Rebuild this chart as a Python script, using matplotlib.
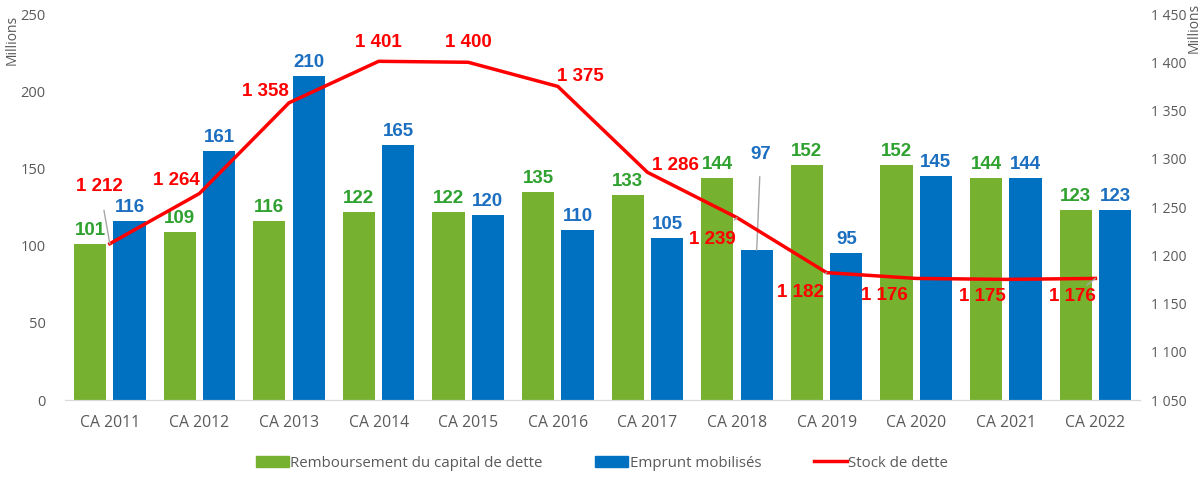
import numpy as np
import matplotlib
matplotlib.use("Agg")
import matplotlib.pyplot as plt
from matplotlib.patches import Patch
from matplotlib.lines import Line2D

plt.rcParams["font.family"] = ["Open Sans", "DejaVu Sans"]

# Data (millions)
years = ["CA 2011", "CA 2012", "CA 2013", "CA 2014", "CA 2015", "CA 2016",
         "CA 2017", "CA 2018", "CA 2019", "CA 2020", "CA 2021", "CA 2022"]
remboursement = [101, 109, 116, 122, 122, 135, 133, 144, 152, 152, 144, 123]
emprunt = [116, 161, 210, 165, 120, 110, 105, 97, 95, 145, 144, 123]
stock = [1212, 1264, 1358, 1401, 1400, 1375, 1286, 1239, 1182, 1176, 1175, 1176]

GREEN = "#76B22F"
BLUE = "#0070C0"
RED = "#FF0000"
GREEN_TXT = "#2FA12F"
BLUE_TXT = "#1C6FC0"
GRAY = "#595959"

# label offsets for the stock line (pixels), and whether a leader line is drawn
stock_offsets = [(-10, 57), (-23, 13), (-24, 11), (0, 19), (0, 20), (23, 10),
                 (28, 7), (-25, -22), (-26, -20), (-32, -17), (-23, -17), (-23, -18)]
stock_leader = [True, False, False, False, False, False,
                False, True, True, False, False, True]


def fmt(v):
    return f"{v:,}".replace(",", " ")


fig = plt.figure(figsize=(12.04, 4.87), dpi=100)
ax = fig.add_axes([0.054, 0.1786, 0.893, 0.7926])
ax2 = ax.twinx()

x = np.arange(len(years))
w = 0.36
off = 0.22
ax.bar(x - off, remboursement, w, color=GREEN, zorder=2)
ax.bar(x + off, emprunt, w, color=BLUE, zorder=2)

lab_font = dict(fontsize=13.5, fontweight="bold", family=["Liberation Sans", "DejaVu Sans"])
for i in range(len(years)):
    ax.annotate(str(remboursement[i]), (x[i] - off, remboursement[i]),
                xytext=(0, 5), textcoords="offset pixels", ha="center", va="bottom",
                color=GREEN_TXT, **lab_font)
    if years[i] == "CA 2018":
        ax.annotate(str(emprunt[i]), (x[i] + off, emprunt[i]),
                    xytext=(4, 96), textcoords="offset pixels", ha="center", va="center",
                    color=BLUE_TXT, **lab_font,
                    arrowprops=dict(arrowstyle="-", color="#A6A6A6", lw=1,
                                    shrinkA=8, shrinkB=0))
    else:
        ax.annotate(str(emprunt[i]), (x[i] + off, emprunt[i]),
                    xytext=(0, 5), textcoords="offset pixels", ha="center", va="bottom",
                    color=BLUE_TXT, **lab_font)

ax2.plot(x, stock, color=RED, lw=2.5, zorder=3)
for i, v in enumerate(stock):
    dx, dy = stock_offsets[i]
    kw = {}
    if stock_leader[i]:
        kw["arrowprops"] = dict(arrowstyle="-", color="#A6A6A6", lw=1,
                                shrinkA=9, shrinkB=0)
    ax2.annotate(fmt(v), (x[i], v), xytext=(dx, dy), textcoords="offset pixels",
                 ha="center", va="center", color=RED, **lab_font, **kw)

ax.set_xlim(-0.5, len(years) - 0.5)
ax.set_ylim(0, 250)
ax2.set_ylim(1050, 1450)
ax.set_yticks(np.arange(0, 251, 50))
ax2.set_yticks(np.arange(1050, 1451, 50))
ax2.set_yticklabels([fmt(t) for t in range(1050, 1451, 50)])
ax.set_xticks(x)
ax.set_xticklabels(years)

for a in (ax, ax2):
    for s in ("top", "left", "right"):
        a.spines[s].set_visible(False)
    a.spines["bottom"].set_color("#D9D9D9")
    a.tick_params(length=0, colors=GRAY, labelsize=10.5)
ax.tick_params(axis="x", pad=11, labelsize=11.3)
ax.tick_params(axis="y", pad=14)
ax2.tick_params(axis="y", pad=8, labelsize=10)

fig.text(0.010, 0.918, "Millions", rotation=90, ha="center", va="center",
         color=GRAY, fontsize=10)
fig.text(0.992, 0.942, "Millions", rotation=90, ha="center", va="center",
         color=GRAY, fontsize=10)

handles = [Patch(color=GREEN), Patch(color=BLUE), Line2D([], [], color=RED, lw=2.5)]
labels = ["Remboursement du capital de dette", "Emprunt mobilisés", "Stock de dette"]
fig.legend(handles, labels, loc="center", bbox_to_anchor=(0.5, 0.049), ncol=3,
           frameon=False, fontsize=10.8, labelcolor=GRAY, handlelength=2.2,
           handletextpad=0.1, columnspacing=3.5)

fig.savefig("out.png", dpi=100)
